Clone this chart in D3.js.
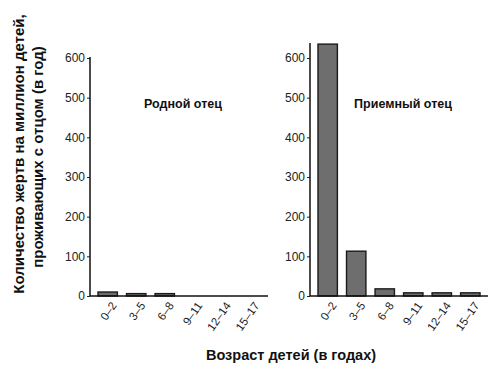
<!DOCTYPE html>
<html><head><meta charset="utf-8">
<script src="https://cdn.jsdelivr.net/npm/d3@7"></script>
<style>body{margin:0;background:#fff}svg{display:block}</style>
</head><body>
<script>
const categories = ["0–2","3–5","6–8","9–11","12–14","15–17"];
const biological = [10, 6, 6, 0, 0, 0];
const stepfather = [635, 113, 18, 8, 8, 8];
const yTicks = [0,100,200,300,400,500,600];
const panelTitles = ["Родной отец","Приемный отец"];
const yTitle = ["Количество жертв на миллион детей,","проживающих с отцом (в год)"];
const xTitle = "Возраст детей (в годах)";

const W=490,H=371;
const svg=d3.select("body").append("svg").attr("width",W).attr("height",H);
const font="Liberation Sans, Arial, sans-serif";
const y=d3.scaleLinear().domain([0,600]).range([296,58]);

function panel(x0,x1,values,title,topY){
  const x=d3.scaleBand().domain(categories).range([x0,x1]).paddingInner(0.32).paddingOuter(0.28);
  const g=svg.append("g");
  g.selectAll("rect").data(values).join("rect")
    .attr("x",(d,i)=>x(categories[i])).attr("width",x.bandwidth())
    .attr("y",d=>y(d)).attr("height",d=>y(0)-y(d))
    .attr("fill","#6e6e6e").attr("stroke","#1a1a1a").attr("stroke-width",1.4);
  const ya=d3.axisLeft(y).tickValues(yTicks).tickSize(3).tickPadding(2);
  const ay=g.append("g").attr("transform",`translate(${x0},0)`).call(ya);
  ay.select(".domain").remove();
  ay.selectAll("text").attr("font-family",font).attr("font-size",12).attr("fill","#222");
  ay.selectAll("line").attr("stroke","#222");
  g.append("line").attr("x1",x0).attr("x2",x0).attr("y1",y(0)).attr("y2",topY).attr("stroke","#111").attr("stroke-width",1.5);
  g.append("line").attr("x1",x0).attr("x2",x1).attr("y1",y(0)).attr("y2",y(0)).attr("stroke","#111").attr("stroke-width",1.5);
  const xa=d3.axisBottom(x).tickSize(0).tickPadding(0);
  const ax=g.append("g").attr("transform",`translate(0,${y(0)})`).call(xa);
  ax.select(".domain").remove();
  ax.selectAll("text").attr("font-family",font).attr("font-size",11.5).attr("fill","#222")
    .attr("text-anchor","end").attr("dy","0.7em")
    .attr("transform","translate(3,5) rotate(-55)");
  g.append("text").attr("x",(x0+x1)/2+4).attr("y",108).attr("text-anchor","middle")
    .attr("font-family",font).attr("font-size",12.5).attr("font-weight","bold").attr("fill","#111").text(title);
}
panel(90,268,biological,panelTitles[0],57);
panel(310,488,stepfather,panelTitles[1],43);

svg.append("text").attr("transform","translate(24,154) rotate(-90)").attr("text-anchor","middle")
  .attr("font-family",font).attr("font-size",15).attr("font-weight","bold").attr("fill","#111").text(yTitle[0]);
svg.append("text").attr("transform","translate(43,157) rotate(-90)").attr("text-anchor","middle")
  .attr("font-family",font).attr("font-size",15).attr("font-weight","bold").attr("fill","#111").text(yTitle[1]);
svg.append("text").attr("x",291).attr("y",360).attr("text-anchor","middle")
  .attr("font-family",font).attr("font-size",14.5).attr("font-weight","bold").attr("fill","#111").text(xTitle);
</script>
</body></html>
